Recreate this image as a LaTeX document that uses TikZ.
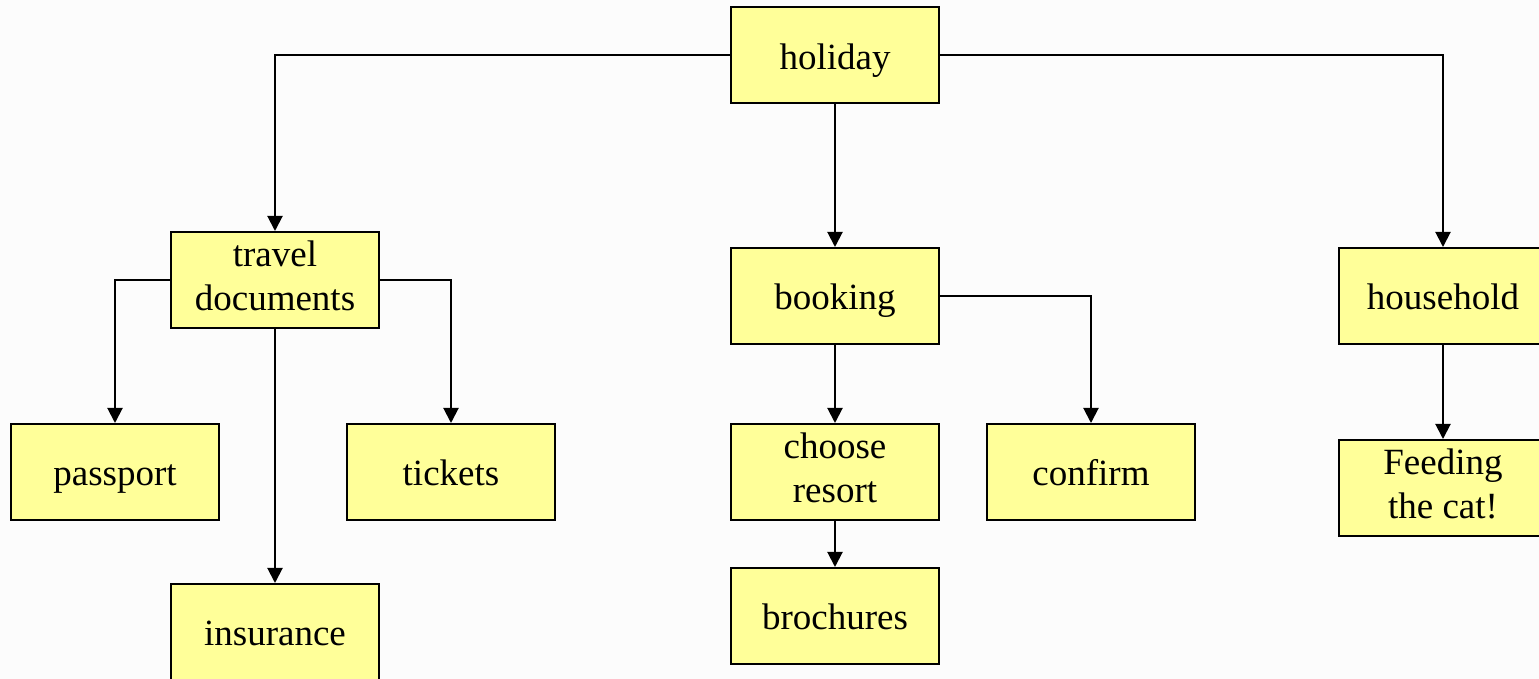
\documentclass[tikz,border=0pt]{standalone}
\usepackage{fontspec}
\setmainfont{Liberation Serif}
\usetikzlibrary{arrows.meta}
\definecolor{boxyellow}{HTML}{FFFF99}
\definecolor{pagegray}{HTML}{FCFCFC}
\begin{document}
\begin{tikzpicture}[x=0.5pt, y=-0.5pt,
    box/.style={rectangle, draw, line width=1pt, fill=boxyellow, minimum width=104pt, minimum height=48pt, inner sep=0pt, align=center, font=\fontsize{18.5}{22}\selectfont,
        execute at begin node={\rule{0pt}{18pt}}, execute at end node={\rule[-4pt]{0pt}{4pt}}},
    link/.style={-{Triangle[length=7.5pt, width=7.5pt]}, line width=1pt}]
            \fill[pagegray] (0,0) rectangle (1539,679);
            \useasboundingbox (0,0) rectangle (1539,679);

            \node[box] (holiday) at (835, 55.5) {holiday};
            \node[box] (travel) at (275, 280) {travel\\documents};
            \node[box] (booking) at (835, 296) {booking};
            \node[box] (household) at (1443, 296) {household}; % cut at the edge
            \node[box] (passport) at (115, 472) {passport};
            \node[box] (tickets) at (451, 472) {tickets};
            \node[box] (insurance) at (275, 632) {insurance};
            \node[box] (resort) at (835, 472) {choose\\resort};
            \node[box] (confirm) at (1091, 472) {confirm};
            \node[box] (brochures) at (835, 616) {brochures};
            \node[box] (cat) at (1443, 488) {Feeding\\the cat!};

            \draw[link] (holiday.west) -| (travel.north);
            \draw[link] (holiday.south) -- (booking.north);
            \draw[link] (holiday.east) -| (household.north);
            \draw[link] (travel.west) -| (passport.north);
            \draw[link] (travel.east) -| (tickets.north);
            \draw[link] (travel.south) -- (insurance.north);
            \draw[link] (booking.south) -- (resort.north);
            \draw[link] (booking.east) -| (confirm.north);
            \draw[link] (resort.south) -- (brochures.north);
            \draw[link] (household.south) -- (cat.north);
        \end{tikzpicture}
\end{document}
